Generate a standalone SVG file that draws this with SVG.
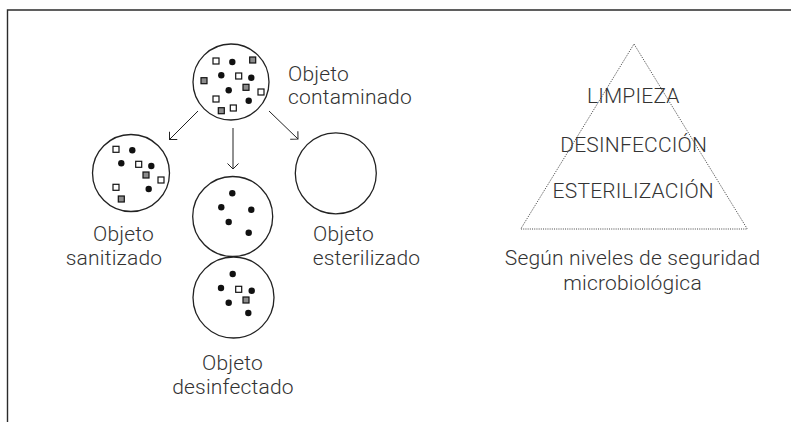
<svg xmlns="http://www.w3.org/2000/svg" width="791" height="422" viewBox="0 0 791 422">
<defs>
<style>
.frame{fill:none;stroke:#2b2b2b;stroke-width:1.4}
.circ{fill:#fff;stroke:#222;stroke-width:1.3}
.dot{fill:#111}
.sq{fill:#fff;stroke:#111;stroke-width:1.2}
.gsq{fill:#8c8c8c;stroke:#111;stroke-width:1.2}
.lbl{font-family:Roboto,"Liberation Sans",sans-serif;font-weight:300;font-size:21px;letter-spacing:0.2px;fill:#333}
.ctr{text-anchor:middle}
.arrow{fill:none;stroke:#222;stroke-width:1;marker-end:url(#ah)}
.tri{fill:none;stroke:#444;stroke-width:1;stroke-dasharray:1 1.2}
</style>
<marker id="ah" markerUnits="userSpaceOnUse" markerWidth="16" markerHeight="16" viewBox="0 0 16 16" refX="8" refY="8" orient="auto" overflow="visible">
<path d="M2.5,2.5 L8,8 L2.5,13.5" fill="none" stroke="#222" stroke-width="1"/>
</marker>
</defs>
<path class="frame" d="M791,10 H7.5 V422"/>

<g id="connectors">
<line class="arrow" x1="198" y1="111" x2="169.5" y2="139.5"/>
<line class="arrow" x1="233" y1="128" x2="233" y2="169"/>
<line class="arrow" x1="269" y1="111" x2="298" y2="139"/>
</g>

<g id="contaminado">
<circle class="circ" cx="231" cy="82" r="38"/>
<rect class="sq" x="213" y="58" width="6" height="6"/>
<circle class="dot" cx="232.3" cy="62" r="3.2"/>
<rect class="gsq" x="249.7" y="57" width="6" height="6"/>
<rect class="gsq" x="201" y="77.7" width="6" height="6"/>
<circle class="dot" cx="221.3" cy="75.3" r="3.2"/>
<rect class="sq" x="235.7" y="73" width="6" height="6"/>
<circle class="dot" cx="251.3" cy="77.7" r="3.2"/>
<rect class="gsq" x="243" y="84.3" width="6" height="6"/>
<circle class="dot" cx="228.7" cy="90.3" r="3.2"/>
<rect class="sq" x="258" y="89" width="6" height="6"/>
<rect class="sq" x="213" y="96" width="6" height="6"/>
<circle class="dot" cx="248.7" cy="100.7" r="3.2"/>
<rect class="gsq" x="218.3" y="107.7" width="6" height="6"/>
<rect class="sq" x="230.3" y="105" width="6" height="6"/>
<text class="lbl" x="288" y="80.5">Objeto</text>
<text class="lbl" x="288" y="104">contaminado</text>
</g>

<g id="sanitizado">
<circle class="circ" cx="131" cy="173" r="38.5"/>
<rect class="sq" x="113" y="146.3" width="6" height="6"/>
<circle class="dot" cx="132.3" cy="150.3" r="3.2"/>
<circle class="dot" cx="121.3" cy="163.3" r="3.2"/>
<rect class="sq" x="135.7" y="161.3" width="6" height="6"/>
<circle class="dot" cx="151.3" cy="166" r="3.2"/>
<rect class="gsq" x="143" y="172" width="6" height="6"/>
<rect class="sq" x="158" y="177" width="6" height="6"/>
<rect class="sq" x="113" y="184.3" width="6" height="6"/>
<circle class="dot" cx="148.7" cy="189" r="3.2"/>
<rect class="gsq" x="118.3" y="196" width="6" height="6"/>
<text class="lbl ctr" x="123.5" y="240.5">Objeto</text>
<text class="lbl ctr" x="114" y="265">sanitizado</text>
</g>

<g id="desinfectado1">
<circle class="circ" cx="232.7" cy="216.5" r="40"/>
<circle class="dot" cx="232.3" cy="193.3" r="3.2"/>
<circle class="dot" cx="221.3" cy="207.3" r="3.2"/>
<circle class="dot" cx="251.3" cy="209.7" r="3.2"/>
<circle class="dot" cx="228.7" cy="222" r="3.2"/>
<circle class="dot" cx="248.7" cy="232.7" r="3.2"/>
</g>

<g id="desinfectado2">
<circle class="circ" cx="233.5" cy="297.5" r="40.5"/>
<circle class="dot" cx="232.7" cy="274" r="3.2"/>
<circle class="dot" cx="221" cy="288" r="3.2"/>
<rect class="sq" x="235.7" y="286.3" width="6" height="6"/>
<circle class="dot" cx="251.7" cy="290.7" r="3.2"/>
<rect class="gsq" x="243" y="297" width="6" height="6"/>
<circle class="dot" cx="228.7" cy="302.7" r="3.2"/>
<circle class="dot" cx="248.3" cy="313" r="3.2"/>
<text class="lbl ctr" x="232.5" y="370">Objeto</text>
<text class="lbl ctr" x="233" y="394">desinfectado</text>
</g>

<g id="esterilizado">
<circle class="circ" cx="335.8" cy="173.3" r="40.5"/>
<text class="lbl ctr" x="343.5" y="240.5">Objeto</text>
<text class="lbl ctr" x="366.5" y="265">esterilizado</text>
</g>

<g id="piramide">
<path class="tri" d="M634,44 L747.3,229 L520.7,229 Z"/>
<text class="lbl ctr" x="633.3" y="102.7">LIMPIEZA</text>
<text class="lbl ctr" x="633.7" y="151.7">DESINFECCIÓN</text>
<text class="lbl ctr" x="633.3" y="198.3">ESTERILIZACIÓN</text>
<text class="lbl ctr" x="632.5" y="265">Según niveles de seguridad</text>
<text class="lbl ctr" x="632.5" y="290">microbiológica</text>
</g>
</svg>
